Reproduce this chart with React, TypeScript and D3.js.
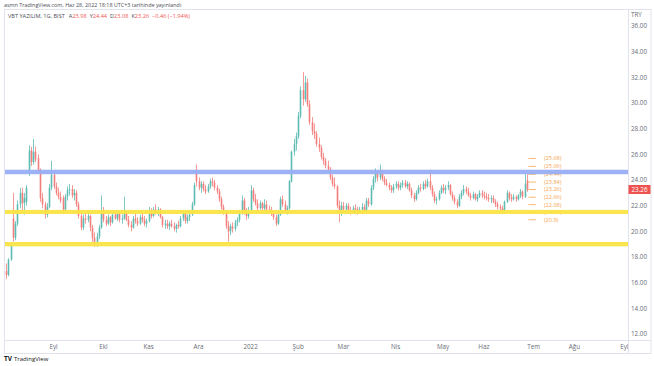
import {useEffect, useRef} from 'react';
import * as d3 from 'd3';

// open, high, low, close
type Candle = [number, number, number, number];

const aug21: Candle[] = [
  [16.9, 17.5, 16.3, 16.6], [16.6, 17.9, 16.5, 17.8], [17.8, 19.1, 17.7, 19.0], [21.0, 23.0, 19.2, 19.5],
  [19.5, 20.8, 19.3, 20.6], [20.6, 22.4, 20.4, 22.1], [22.1, 23.4, 21.8, 23.0], [23.0, 23.4, 21.6, 22.2],
  [22.2, 23.0, 21.3, 22.6], [22.3, 23.6, 22.0, 23.4], [24.5, 26.7, 24.3, 26.3], [26.3, 26.6, 25.1, 25.4],
  [25.4, 27.2, 25.2, 26.2], [26.2, 26.6, 25.4, 25.6], [25.7, 26.0, 24.5, 24.7], [24.7, 24.9, 22.3, 22.6],
  [22.6, 23.0, 21.8, 22.1], [22.1, 22.3, 21.0, 21.3], [21.3, 22.2, 21.1, 21.9], [21.9, 23.7, 21.8, 23.4],
  [23.4, 25.5, 23.2, 24.4],
];
const sep21: Candle[] = [
  [24.4, 24.6, 23.3, 23.5], [23.5, 23.8, 22.8, 23.0], [23.0, 23.4, 22.5, 22.7], [22.7, 23.1, 22.2, 22.4],
  [22.6, 22.8, 21.4, 21.7], [21.7, 22.9, 21.5, 22.7], [22.7, 23.5, 22.4, 23.2], [23.2, 23.7, 22.8, 23.3],
  [23.3, 23.6, 22.6, 22.8], [22.8, 23.3, 22.4, 23.0], [23.0, 23.2, 21.9, 22.1], [22.1, 22.3, 21.0, 21.2],
  [21.2, 21.4, 20.1, 20.3], [20.3, 21.3, 20.1, 21.0], [21.0, 21.4, 20.6, 20.9], [20.9, 21.6, 20.7, 21.2],
  [21.2, 21.3, 20.0, 20.3], [20.3, 20.5, 19.2, 19.5], [19.5, 19.9, 18.8, 19.0], [19.0, 19.9, 18.8, 19.6],
  [19.6, 20.5, 19.4, 20.3], [20.3, 22.8, 20.2, 21.6],
];
const oct21: Candle[] = [
  [21.6, 21.9, 20.7, 20.9], [20.9, 21.2, 20.4, 20.6], [20.6, 21.3, 20.5, 21.1], [21.1, 21.2, 20.4, 20.7],
  [20.7, 21.5, 20.6, 21.3], [21.3, 21.6, 20.9, 21.0], [21.0, 21.5, 20.8, 21.4], [21.4, 21.5, 20.7, 20.9],
  [20.9, 21.3, 20.6, 21.0], [21.0, 22.7, 20.9, 21.4], [21.4, 21.6, 20.8, 20.9], [20.9, 21.2, 20.3, 20.5],
  [20.5, 20.8, 20.0, 20.3], [20.3, 21.2, 20.2, 21.0], [21.0, 21.4, 20.6, 20.8], [20.8, 21.1, 20.4, 20.6],
  [20.6, 21.3, 20.5, 21.1], [21.1, 21.5, 20.7, 20.9], [20.9, 21.2, 20.4, 20.6], [20.6, 21.0, 20.3, 20.8],
];
const nov21: Candle[] = [
  [20.8, 21.9, 20.7, 21.6], [21.6, 21.8, 21.0, 21.2], [21.2, 21.9, 21.1, 21.7], [21.7, 22.1, 21.3, 21.4],
  [21.4, 21.9, 21.2, 21.7], [21.7, 21.8, 21.0, 21.1], [21.1, 21.2, 20.3, 20.5], [20.5, 20.9, 20.2, 20.6],
  [20.6, 20.9, 20.2, 20.4], [20.4, 20.8, 20.1, 20.6], [20.6, 20.9, 20.3, 20.4], [20.4, 20.7, 20.0, 20.2],
  [20.2, 20.6, 19.9, 20.5], [20.5, 20.8, 20.2, 20.4], [20.4, 21.2, 20.3, 21.0], [21.0, 21.6, 20.8, 21.4],
  [21.4, 21.5, 20.6, 20.8], [20.8, 21.3, 20.6, 21.1], [21.1, 21.5, 20.8, 21.3], [21.3, 22.3, 21.2, 22.1],
  [22.1, 23.8, 22.0, 23.6], [24.8, 25.2, 23.5, 23.9],
];
const dec21: Candle[] = [
  [23.9, 24.2, 23.2, 23.4], [23.4, 23.9, 23.0, 23.7], [23.7, 23.9, 23.1, 23.3], [23.3, 23.6, 22.9, 23.1],
  [23.1, 23.7, 23.0, 23.5], [23.5, 24.1, 23.3, 23.9], [23.9, 24.2, 23.5, 23.8], [23.8, 24.0, 23.2, 23.4],
  [23.4, 23.6, 22.9, 23.1], [23.1, 23.3, 22.3, 22.5], [22.5, 22.7, 21.7, 21.9], [21.9, 22.1, 21.3, 21.5],
  [21.5, 21.6, 20.2, 20.4], [20.4, 20.8, 19.2, 20.0], [20.0, 20.6, 19.7, 20.4], [20.4, 20.7, 19.9, 20.2],
  [20.2, 20.9, 20.0, 20.7], [20.7, 21.1, 20.4, 20.9], [20.9, 21.6, 20.7, 21.4], [21.4, 22.8, 21.3, 22.4],
  [22.4, 22.6, 21.3, 21.5], [21.5, 21.8, 20.9, 21.2], [21.2, 21.9, 21.0, 21.6],
];
const jan22: Candle[] = [
  [21.6, 23.6, 21.5, 23.2], [23.2, 23.4, 22.3, 22.5], [22.5, 22.9, 22.0, 22.2], [22.2, 22.5, 21.6, 21.8],
  [21.8, 22.4, 21.7, 22.2], [22.2, 22.3, 21.6, 21.8], [21.8, 22.5, 21.6, 22.1], [22.1, 22.4, 21.5, 21.7],
  [21.7, 22.0, 21.4, 21.6], [21.6, 21.9, 21.2, 21.4], [21.4, 21.6, 20.9, 21.1], [21.1, 21.3, 20.4, 20.6],
  [20.6, 21.5, 20.5, 21.3], [21.3, 22.7, 21.2, 22.5], [22.5, 22.8, 21.9, 22.1], [22.1, 22.4, 21.4, 21.6],
  [21.6, 22.0, 21.3, 21.8], [21.8, 24.0, 21.7, 23.9], [23.9, 26.3, 23.8, 26.2], [26.2, 27.2, 25.9, 26.8],
  [26.8, 27.7, 26.3, 27.4],
];
const feb22: Candle[] = [
  [27.4, 29.3, 27.2, 29.0], [29.0, 31.3, 28.8, 31.0], [31.0, 32.4, 29.8, 30.3], [30.3, 32.1, 30.1, 31.6],
  [31.6, 31.9, 29.7, 29.9], [29.9, 30.2, 28.3, 28.5], [28.5, 28.9, 27.5, 27.8], [27.8, 28.4, 27.2, 27.6],
  [27.6, 27.8, 26.6, 26.8], [26.8, 27.3, 26.2, 26.5], [26.5, 26.7, 25.6, 25.8], [25.8, 26.1, 25.2, 25.5],
  [25.5, 25.7, 24.9, 25.1], [25.1, 25.5, 24.6, 24.8], [24.8, 25.0, 24.0, 24.2], [24.2, 24.4, 23.5, 23.7],
  [23.7, 24.2, 23.3, 23.5], [23.5, 23.6, 21.8, 22.0], [22.0, 22.4, 20.7, 21.5], [21.5, 22.3, 21.2, 22.0],
];
const mar22: Candle[] = [
  [22.0, 22.3, 21.5, 21.7], [21.7, 22.2, 21.4, 22.0], [22.0, 22.2, 21.5, 21.6], [21.6, 21.9, 21.3, 21.5],
  [21.5, 22.0, 21.4, 21.8], [21.8, 22.1, 21.5, 21.7], [21.7, 21.9, 21.3, 21.5], [21.5, 21.9, 21.4, 21.7],
  [21.7, 22.2, 21.5, 21.9], [21.9, 22.1, 21.5, 21.6], [21.6, 22.6, 21.5, 22.4], [22.4, 22.6, 21.9, 22.1],
  [22.1, 23.6, 22.0, 23.4], [23.4, 24.3, 23.2, 24.1], [24.1, 24.9, 23.8, 24.5], [24.5, 24.7, 23.9, 24.2],
  [24.2, 25.2, 24.0, 24.7], [24.7, 24.8, 23.9, 24.1], [24.1, 24.3, 23.6, 23.8], [23.8, 24.1, 23.5, 23.6],
  [23.6, 23.8, 23.2, 23.4], [23.4, 23.6, 23.0, 23.2], [23.2, 23.7, 23.0, 23.5],
];
const apr22: Candle[] = [
  [23.5, 23.9, 23.3, 23.7], [23.7, 23.9, 23.2, 23.4], [23.4, 23.8, 23.2, 23.6], [23.6, 24.0, 23.4, 23.8],
  [23.8, 24.0, 23.4, 23.5], [23.5, 23.9, 23.3, 23.7], [23.7, 23.8, 23.1, 23.2], [23.2, 23.4, 22.6, 22.8],
  [22.8, 23.0, 22.3, 22.5], [22.5, 23.2, 22.4, 23.0], [23.0, 23.6, 22.9, 23.4], [23.4, 23.7, 23.1, 23.3],
  [23.3, 23.9, 23.2, 23.7], [23.7, 24.0, 23.3, 23.5], [23.5, 24.1, 23.4, 23.9], [23.9, 24.8, 23.2, 23.4],
  [23.4, 23.6, 22.7, 22.9], [22.9, 23.1, 22.2, 22.4], [22.4, 22.7, 22.1, 22.5], [22.5, 23.2, 22.4, 23.0],
  [23.0, 23.6, 22.9, 23.4],
];
const may22: Candle[] = [
  [23.4, 23.7, 23.0, 23.2], [23.2, 23.6, 22.9, 23.4], [23.4, 23.9, 23.2, 23.6], [23.6, 23.7, 22.8, 22.9],
  [22.9, 23.1, 22.4, 22.6], [22.6, 22.8, 22.1, 22.3], [22.3, 22.5, 21.8, 22.0], [22.0, 22.9, 21.9, 22.7],
  [22.7, 23.2, 22.5, 23.0], [23.0, 23.6, 22.8, 23.3], [23.3, 23.5, 22.9, 23.1], [23.1, 23.4, 22.7, 22.8],
  [22.8, 23.0, 22.4, 22.6], [22.6, 23.1, 22.5, 22.9], [22.9, 23.0, 22.4, 22.5], [22.5, 22.9, 22.3, 22.7],
  [22.7, 23.2, 22.6, 23.0], [23.0, 23.2, 22.6, 22.8],
];
const jun22: Candle[] = [
  [22.8, 23.1, 22.5, 22.7], [22.7, 23.0, 22.4, 22.6], [22.6, 22.9, 22.3, 22.5], [22.5, 22.8, 22.2, 22.6],
  [22.6, 22.8, 22.2, 22.3], [22.3, 22.5, 21.9, 22.1], [22.1, 22.3, 21.7, 21.9], [21.9, 22.1, 21.6, 21.8],
  [21.8, 22.0, 21.4, 21.6], [21.6, 22.4, 21.5, 22.3], [22.3, 23.2, 22.2, 23.0], [23.0, 23.1, 22.4, 22.6],
  [22.6, 22.9, 22.3, 22.5], [22.5, 22.9, 22.4, 22.7], [22.7, 22.8, 22.3, 22.5], [22.5, 22.9, 22.4, 22.8],
  [22.8, 23.3, 22.6, 23.1], [23.1, 23.2, 22.5, 22.7], [22.7, 24.5, 22.6, 23.72], [23.98, 24.44, 23.08, 23.26],
];

// time axis: month labels and the bar slot where each month starts
const monthLabels = ['Eyl', 'Ekl', 'Kas', 'Ara', '2022', 'Şub', 'Mar', 'Nis', 'May', 'Haz', 'Tem', 'Ağu', 'Eyl'];
const monthSlots = [21, 43, 63, 85, 108, 129, 149, 172, 193, 211, 233, 251, 273];

const priceTicks = [12, 14, 16, 18, 20, 22, 24, 26, 28, 30, 32, 34, 36];

// drawn support / resistance zones (price low, price high)
const blueZone = [24.45, 24.8];
const yellowZones = [[21.35, 21.67], [18.83, 19.17]];

// projection levels on the right
const levelValues = [25.68, 25.06, 24.44, 23.84, 23.26, 22.66, 22.08, 21.48, 20.9];

const headerLine = 'asmn TradingView.com, Haz 28, 2022 18:18 UTC+3 tarihinde yayınlandı';
const symbolText = 'VBT YAZILIM, 1G, BIST';
const ohlcLabels = ['A', 'Y', 'D', 'K'];
const ohlcValues = ['23.98', '24.44', '23.08', '23.26'];
const changeText = '−0.46 (−1.94%)';
const lastPrice = 23.26;

// parameters
const W = 654;
const H = 366;
const plotLeft = 4.5;
const plotRight = 628;
const plotTop = 9.5;
const plotBottom = 340.5;
const axisBottom = 353.5;
const up = '#26a69a';
const down = '#ef5350';
const textGray = '#6a6d78';
const orange = '#f5a44c';
const font = '"Open Sans", "Liberation Sans", sans-serif';

export default function App() {
  const ref = useRef<SVGSVGElement>(null);
  useEffect(() => {
    if (!ref.current)
      return;
    const svg = d3.select(ref.current);
    svg.selectAll('*').remove();

    const candles: Candle[] = [
      ...aug21, ...sep21, ...oct21, ...nov21, ...dec21, ...jan22,
      ...feb22, ...mar22, ...apr22, ...may22, ...jun22,
    ];

    const x = d3.scaleLinear().domain([0, 273]).range([6, 624.3]);
    const y = d3.scaleLinear().domain([12, 36]).range([334, 26]);

    svg.append('defs')
      .append('clipPath')
      .attr('id', 'plot-clip')
      .append('rect')
      .attr('x', plotLeft)
      .attr('y', plotTop)
      .attr('width', plotRight - plotLeft)
      .attr('height', axisBottom - plotTop);

    // frame
    const frame = svg.append('g').attr('stroke', '#e0e3eb').attr('fill', 'none');
    frame.append('rect')
      .attr('x', plotLeft).attr('y', plotTop)
      .attr('width', 651 - plotLeft).attr('height', axisBottom - plotTop);
    frame.append('line')
      .attr('x1', plotRight + 0.5).attr('x2', plotRight + 0.5)
      .attr('y1', plotTop).attr('y2', axisBottom);
    frame.append('line')
      .attr('x1', plotLeft).attr('x2', 651)
      .attr('y1', plotBottom).attr('y2', plotBottom);

    // candles
    const cg = svg.append('g').attr('clip-path', 'url(#plot-clip)');
    const bars = cg.selectAll('g.candle')
      .data(candles)
      .enter()
      .append('g')
      .classed('candle', true);
    bars.append('line')
      .attr('x1', (d, i) => Math.round(x(i)) + 0.5)
      .attr('x2', (d, i) => Math.round(x(i)) + 0.5)
      .attr('y1', d => y(d[1]))
      .attr('y2', d => y(d[2]))
      .attr('stroke', d => d[3] >= d[0] ? up : down)
      .attr('stroke-width', 0.8);
    bars.append('rect')
      .attr('x', (d, i) => Math.round(x(i)) + 0.5 - 0.8)
      .attr('width', 1.6)
      .attr('y', d => y(Math.max(d[0], d[3])))
      .attr('height', d => Math.max(0.8, Math.abs(y(d[0]) - y(d[3]))))
      .attr('fill', d => d[3] >= d[0] ? up : down);
    bars.attr('opacity', 0.75);

    // projection levels
    const lastX = x(candles.length - 1);
    const lv = svg.append('g');
    lv.selectAll('line')
      .data(levelValues)
      .enter()
      .append('line')
      .attr('x1', lastX + 1.5)
      .attr('x2', lastX + 9)
      .attr('y1', d => y(d))
      .attr('y2', d => y(d))
      .attr('stroke', orange)
      .attr('stroke-width', 0.8);
    lv.selectAll('text')
      .data(levelValues)
      .enter()
      .append('text')
      .attr('x', lastX + 17)
      .attr('y', d => y(d) + 2)
      .attr('font-size', 5.6)
      .attr('font-family', font)
      .attr('fill', orange)
      .text(d => `(${d})`);

    // zones
    const zg = svg.append('g');
    zg.append('rect')
      .attr('x', plotLeft + 0.5)
      .attr('width', plotRight - plotLeft - 0.5)
      .attr('y', y(blueZone[1]))
      .attr('height', y(blueZone[0]) - y(blueZone[1]))
      .attr('fill', '#98aef4')
      .attr('opacity', 0.95);
    zg.selectAll('rect.yellow')
      .data(yellowZones)
      .enter()
      .append('rect')
      .classed('yellow', true)
      .attr('x', plotLeft + 0.5)
      .attr('width', plotRight - plotLeft - 0.5)
      .attr('y', d => y(d[1]))
      .attr('height', d => y(d[0]) - y(d[1]))
      .attr('fill', '#fbe445')
      .attr('opacity', 0.95);

    // price axis
    const pa = svg.append('g').attr('font-family', font).attr('font-size', 6.3).attr('fill', textGray);
    pa.selectAll('text.tick')
      .data(priceTicks)
      .enter()
      .append('text')
      .classed('tick', true)
      .attr('x', 631)
      .attr('y', d => y(d) + 2.2)
      .text(d => d.toFixed(2));
    pa.append('text')
      .attr('x', 631)
      .attr('y', 17)
      .text('TRY');
    svg.append('rect')
      .attr('x', plotRight + 0.5)
      .attr('y', y(lastPrice) - 4.5)
      .attr('width', 22)
      .attr('height', 9)
      .attr('fill', down);
    svg.append('text')
      .attr('x', 639.5)
      .attr('y', y(lastPrice) + 2.2)
      .attr('text-anchor', 'middle')
      .attr('font-family', font)
      .attr('font-size', 6.3)
      .attr('fill', '#fff')
      .text(lastPrice.toFixed(2));

    // time axis
    svg.append('g')
      .attr('clip-path', 'url(#plot-clip)')
      .attr('font-family', font)
      .attr('font-size', 6.3)
      .attr('fill', textGray)
      .attr('text-anchor', 'middle')
      .selectAll('text')
      .data(monthLabels)
      .enter()
      .append('text')
      .attr('x', (d, i) => x(monthSlots[i]))
      .attr('y', 349)
      .text(d => d);

    // header
    svg.append('text')
      .attr('x', 4)
      .attr('y', 6.5)
      .attr('font-family', font)
      .attr('font-size', 5.4)
      .attr('fill', '#4a4d57')
      .text(headerLine);
    const title = svg.append('text')
      .attr('x', 8)
      .attr('y', 18)
      .attr('font-family', font)
      .attr('font-size', 5.6)
      .attr('fill', '#4a4d57');
    title.append('tspan').text(symbolText);
    ohlcLabels.forEach((l, i) => {
      title.append('tspan').attr('dx', i === 0 ? 4 : 3).text(l);
      title.append('tspan').attr('fill', down).text(ohlcValues[i]);
    });
    title.append('tspan').attr('dx', 3).attr('fill', down).text(changeText);

    // footer logo
    const logo = svg.append('g').attr('font-family', font);
    logo.append('text')
      .attr('x', 4)
      .attr('y', 361)
      .attr('font-size', 6.5)
      .attr('font-weight', 'bold')
      .attr('fill', '#131722')
      .text('TV');
    logo.append('text')
      .attr('x', 14)
      .attr('y', 361)
      .attr('font-size', 6)
      .attr('fill', '#131722')
      .text('TradingView');
  }, [ref]);
  return <svg
    ref={ref}
    width={W}
    height={H}
    style={{position: 'absolute', left: 0, top: 0, background: '#fff'}}
  />;
}
